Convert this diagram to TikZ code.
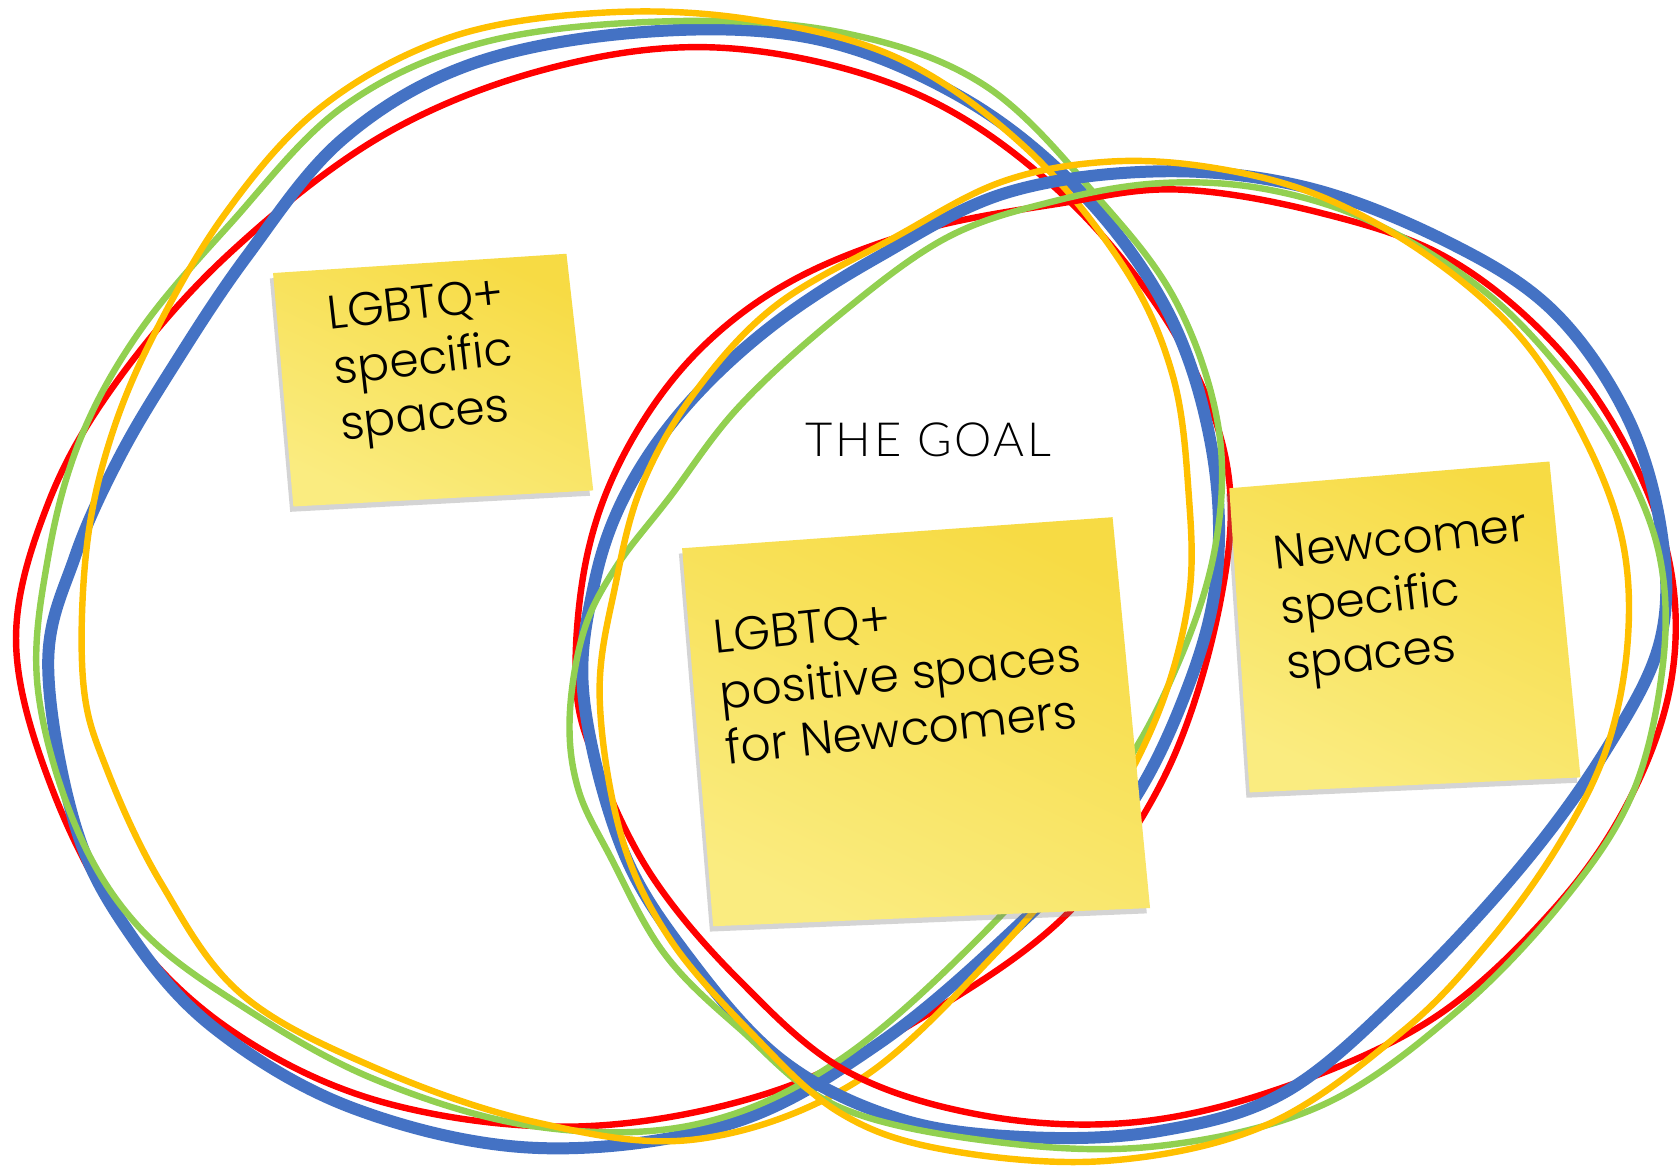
\documentclass[tikz,border=0pt]{standalone}
\usepackage{fontspec}
\newfontfamily\stickyfont{Poppins Light}
\newfontfamily\goalfont{Lato Light}[LetterSpace=6]
\usetikzlibrary{shadows}
\definecolor{lred}{RGB}{255,0,0}
\definecolor{lblue}{RGB}{68,114,196}
\definecolor{lgreen}{RGB}{146,208,80}
\definecolor{lyellow}{RGB}{255,192,0}
\definecolor{stickytop}{RGB}{247,219,68}
\definecolor{stickybot}{RGB}{250,236,128}
\tikzset{
  ring/.style={line join=round, line cap=round},
  redring/.style={ring, draw=lred, line width=3pt},
  bluering/.style={ring, draw=lblue, line width=5.6pt},
  greenring/.style={ring, draw=lgreen, line width=3pt},
  yellowring/.style={ring, draw=lyellow, line width=3pt},
  sticky/.style={top color=stickytop, bottom color=stickybot, shading angle=-25,
    drop shadow={shadow xshift=-1.5pt, shadow yshift=-2.5pt, opacity=0.3, fill=black!55}},
  stext/.style={font=\stickyfont\fontsize{22}{26}\selectfont, inner sep=0pt,
    anchor=base west, align=left},
  gtext/.style={font=\goalfont\fontsize{22}{26}\selectfont, inner sep=0pt, anchor=base west},
}
\begin{document}
\begin{tikzpicture}[x=0.5pt, y=-0.5pt]
\useasboundingbox (0,0) rectangle (1568,1090);
\fill[white] (0,0) rectangle (1568,1090);

% ---- left group of rings ----
\draw[redring] plot[smooth cycle, tension=0.6] coordinates {
 (15,600) (45,470) (110,355) (215,236) (360,125) (520,62) (680,45) (850,85)
 (984,174) (1090,300) (1145,430) (1140,560) (1090,720) (1000,850) (870,945)
 (720,1020) (540,1052) (360,1030) (220,965) (120,870) (50,740)};
\draw[bluering] plot[smooth cycle, tension=0.6] coordinates {
 (45,620) (70,520) (110,430) (160,345) (230,240) (320,130) (440,60) (600,30)
 (760,36) (900,92) (1010,180) (1090,290) (1130,410) (1137,530) (1110,640)
 (1050,760) (950,865) (820,975) (680,1050) (500,1072) (330,1035) (200,960)
 (120,870) (70,770)};
\draw[greenring] plot[smooth cycle, tension=0.6] coordinates {
 (35,640) (45,520) (75,410) (130,310) (215,209) (320,100) (450,40) (620,20)
 (784,30) (920,80) (1030,190) (1100,285) (1138,400) (1135,510) (1100,620)
 (1040,730) (925,865) (784,990) (650,1050) (500,1052) (350,1008) (225,939)
 (130,866) (70,770)};
\draw[yellowring] plot[smooth cycle, tension=0.6] coordinates {
 (78,640) (80,520) (100,420) (140,320) (210,200) (300,100) (420,35) (560,12)
 (700,18) (840,55) (960,140) (1050,250) (1095,350) (1110,460) (1110,560)
 (1080,670) (1020,780) (930,890) (800,1010) (650,1064) (500,1048) (350,997)
 (225,928) (150,824) (100,719)};

% ---- right group of rings ----
\draw[redring] plot[smooth cycle, tension=0.6] coordinates {
 (538,640) (548,520) (585,420) (650,330) (740,262) (860,215) (990,190) (1100,177)
 (1230,198) (1350,240) (1450,320) (1520,420) (1560,530) (1560,640) (1520,750)
 (1450,850) (1340,950) (1200,1015) (1060,1048) (920,1042) (790,1000) (690,915)
 (610,820) (560,720)};
\draw[bluering] plot[smooth cycle, tension=0.6] coordinates {
 (545,650) (555,545) (585,460) (640,380) (720,305) (820,240) (940,180) (1084,160)
 (1220,175) (1350,225) (1450,290) (1520,390) (1552,500) (1550,600) (1500,700)
 (1420,810) (1310,928) (1200,1020) (1084,1056) (960,1062) (840,1045) (730,990)
 (640,890) (580,790)};
\draw[greenring] plot[smooth cycle, tension=0.6] coordinates {
 (532,670) (545,590) (575,530) (625,465) (690,380) (784,294) (884,222) (984,188)
 (1084,171) (1184,177) (1285,209) (1385,271) (1460,348) (1515,430) (1550,520)
 (1553,620) (1525,740) (1460,841) (1360,945) (1235,1032) (1084,1070) (935,1067)
 (784,1034) (690,960) (620,890) (570,800) (540,737)};
\draw[yellowring] plot[smooth cycle, tension=0.6] coordinates {
 (560,650) (575,545) (600,452) (650,365) (725,285) (835,222) (935,170) (1035,151)
 (1135,157) (1235,184) (1335,240) (1420,315) (1480,410) (1515,504) (1520,600)
 (1500,700) (1455,790) (1390,880) (1310,963) (1184,1050) (1035,1084) (884,1074)
 (784,1039) (700,963) (625,876) (580,780)};

% ---- sticky notes ----
\path[sticky] (255,255) -- (529,237) -- (554,458) -- (274,473) -- cycle;
\path[sticky] (637,512) -- (1039,483) -- (1074,848) -- (666,865) -- cycle;
\path[sticky] (1148,456) -- (1447,431) -- (1476,726) -- (1167,740) -- cycle;

% ---- texts (anchor = baseline of the last line) ----
\node[stext, rotate=6.5] (s1) at (319,411) {LGBTQ+\\specific\\spaces};
\node[stext, rotate=6] (s2) at (679,714) {LGBTQ+\\positive spaces\\for Newcomers};
\node[stext, rotate=6.5] (s3) at (1203,635) {Newcomer\\specific\\spaces};
\node[gtext] (goal) at (752,426) {THE GOAL};
\end{tikzpicture}
\end{document}
